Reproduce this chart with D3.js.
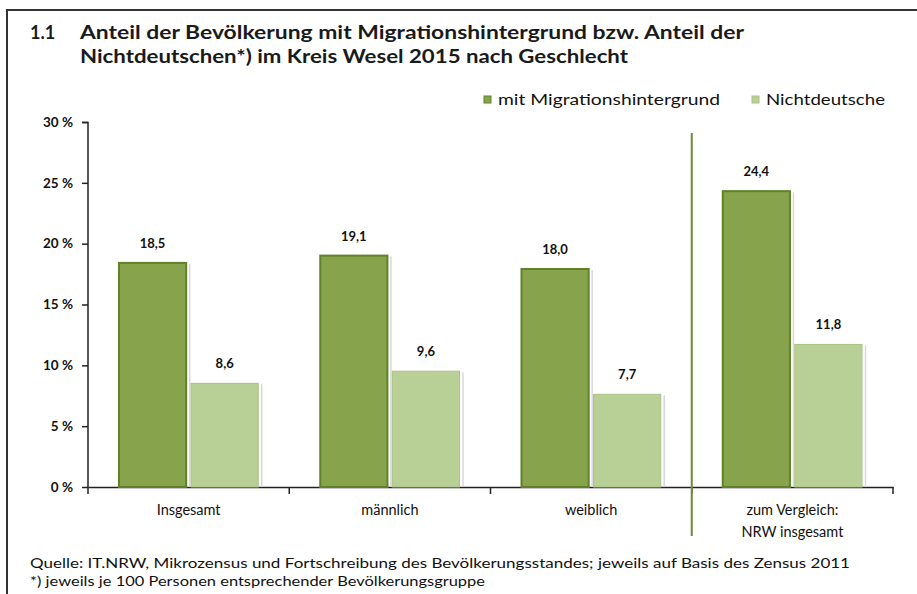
<!DOCTYPE html>
<html><head><meta charset="utf-8">
<script src="https://cdn.jsdelivr.net/npm/d3@7"></script>
<style>body{margin:0;background:#fff}svg{display:block;font-family:Lato,"Open Sans",sans-serif}</style>
</head><body><svg id="c" width="917" height="594"></svg>
<script>
const categories = ["Insgesamt","männlich","weiblich","zum Vergleich:|NRW insgesamt"];
const seriesNames = ["mit Migrationshintergrund","Nichtdeutsche"];
const migration = [18.5,19.1,18.0,24.4];
const nichtdeutsche = [8.6,9.6,7.7,11.8];
const yTicks = [0,5,10,15,20,25,30];
const titleLines = ["Anteil der Bevölkerung mit Migrationshintergrund bzw. Anteil der","Nichtdeutschen*) im Kreis Wesel 2015 nach Geschlecht"];
const footer = ["Quelle: IT.NRW, Mikrozensus und Fortschreibung des Bevölkerungsstandes; jeweils auf Basis des Zensus 2011","*) jeweils je 100 Personen entsprechender Bevölkerungsgruppe"];

const colors = ["#87a34c","#b8cf95"];
const strokes = ["#5f8228","#a9c286"];
const svg = d3.select("#c");

// frame
svg.append("path").attr("d","M7,594 V10 H917").attr("fill","none").attr("stroke","#333").attr("stroke-width",2);

// title
svg.append("text").attr("x",30).attr("y",39).attr("font-weight","bold").attr("font-size",18).attr("fill","#1a1a1a").text("1.1");
titleLines.forEach((t,i)=>{
  svg.append("text").attr("x",80).attr("y",39+24*i).attr("font-weight","bold").attr("font-size",18).attr("fill","#1a1a1a")
    .attr("textLength", i===0?664:548).attr("lengthAdjust","spacingAndGlyphs").text(t);
});

const x0 = d3.scaleBand().domain(categories).range([88,893]).paddingInner(0).paddingOuter(0);
const x1 = d3.scaleBand().domain([0,1]).range([30, x0.bandwidth()-30]).paddingInner(0.04);
const y = d3.scaleLinear().domain([0,30]).range([487,122]);

// y axis
const ya = svg.append("g").attr("transform","translate(88,0)")
  .call(d3.axisLeft(y).tickValues(yTicks).tickSize(6).tickFormat(d=>d+" %"));
ya.select(".domain").attr("stroke","#222").attr("stroke-width",1.5).attr("d","M-6,122.5H0V487.5");
ya.selectAll(".tick line").attr("stroke","#222").attr("stroke-width",1.5);
ya.selectAll(".tick text").attr("font-size",13.5).attr("font-weight","bold").attr("fill","#111").attr("x",-15).attr("font-family","Lato");

// x axis
const xa = svg.append("g").attr("transform","translate(0,487)")
  .call(d3.axisBottom(x0).tickSize(0).tickFormat(""));
xa.select(".domain").attr("stroke","#222").attr("stroke-width",1.5);
const bounds = categories.map(c=>x0(c)).concat([x0(categories[3])+x0.bandwidth()]);
svg.append("g").selectAll("line").data(bounds).join("line")
  .attr("x1",d=>d).attr("x2",d=>d).attr("y1",487).attr("y2",494).attr("stroke","#222").attr("stroke-width",1.5);

// category labels
categories.forEach(c=>{
  const parts = c.split("|");
  parts.forEach((p,i)=>{
    svg.append("text").attr("x",x0(c)+x0.bandwidth()/2).attr("y",515+22*i).attr("text-anchor","middle")
      .attr("font-size",14.5).attr("fill","#111").text(p);
  });
});

// separator
svg.append("line").attr("x1",x0(categories[3])).attr("x2",x0(categories[3])).attr("y1",133).attr("y2",536)
  .attr("stroke","#6d8a3c").attr("stroke-width",2);

// bars
const fmt = v => d3.format(".1f")(v).replace(".",",");
[migration,nichtdeutsche].forEach((vals,s)=>{
  const g = svg.append("g");
  g.selectAll("line.sh").data(vals).join("line")
    .attr("x1",(d,i)=>x0(categories[i])+x1(s)+x1.bandwidth()+2.5)
    .attr("x2",(d,i)=>x0(categories[i])+x1(s)+x1.bandwidth()+2.5)
    .attr("y1",d=>y(d)+2).attr("y2",487).attr("stroke","#d8d8d8").attr("stroke-width",1.5);
  g.selectAll("rect").data(vals).join("rect")
    .attr("x",(d,i)=>x0(categories[i])+x1(s)+1)
    .attr("width",x1.bandwidth()-2)
    .attr("y",d=>y(d)+1).attr("height",d=>487-y(d)-1)
    .attr("fill",colors[s]).attr("stroke",strokes[s]).attr("stroke-width",s===0?2:1);
  g.selectAll("text").data(vals).join("text")
    .attr("x",(d,i)=>x0(categories[i])+x1(s)+x1.bandwidth()/2)
    .attr("y",d=>y(d)-14).attr("text-anchor","middle")
    .attr("font-size",13).attr("font-weight","bold").attr("fill","#111").text(fmt);
});

// legend
const leg = [{x:484,t:seriesNames[0],w:222},{x:752,t:seriesNames[1],w:119}];
leg.forEach((l,i)=>{
  svg.append("rect").attr("x",l.x).attr("y",96).attr("width",7).attr("height",7).attr("fill",colors[i]).attr("stroke",strokes[i]);
  svg.append("text").attr("x",l.x+14).attr("y",105).attr("font-size",15).attr("fill","#111")
    .attr("textLength",l.w).attr("lengthAdjust","spacingAndGlyphs").text(l.t);
});

// footer
footer.forEach((t,i)=>{
  svg.append("text").attr("x",30).attr("y",568+18*i).attr("font-size",13).attr("fill","#111")
    .attr("textLength", i===0?820:455).attr("lengthAdjust","spacingAndGlyphs").text(t);
});
</script></body></html>
